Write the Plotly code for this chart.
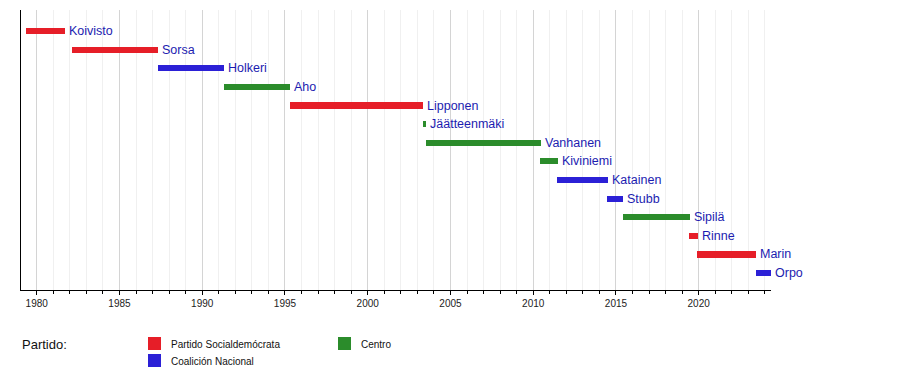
import plotly.graph_objects as go

# ---- data ----
names = ["Koivisto", "Sorsa", "Holkeri", "Aho", "Lipponen", "Jäätteenmäki",
         "Vanhanen", "Kiviniemi", "Katainen", "Stubb", "Sipilä", "Rinne",
         "Marin", "Orpo"]
starts = [1979.35, 1982.12, 1987.32, 1991.32, 1995.30, 2003.33, 2003.51,
          2010.44, 2011.45, 2014.48, 2015.40, 2019.44, 2019.91, 2023.44]
ends = [1981.70, 1987.35, 1991.33, 1995.32, 2003.34, 2003.53, 2010.48,
        2011.50, 2014.50, 2015.43, 2019.48, 2019.98, 2023.48, 2024.37]
parties = ["SDP", "SDP", "KOK", "KESK", "SDP", "KESK", "KESK", "KESK",
           "KOK", "KOK", "KESK", "SDP", "SDP", "KOK"]
party_labels = {"SDP": "Partido Socialdemócrata", "KOK": "Coalición Nacional",
                "KESK": "Centro"}
legend_title = "Partido:"
x_range = [1979.05, 2024.37]

# ---- style ----
colors = {"SDP": "#e61e28", "KOK": "#2b20d6", "KESK": "#2b8c2b"}
text_color = "#1c1cb0"
FONT = "Liberation Sans, Arial, sans-serif"
OFF = 8  # default page body margin
W_FIG, H_FIG = 900 - OFF, 370 - OFF
# plot area in page pixels: x 21..771, y 10..290
L, T = 21 - OFF, 10 - OFF
R = W_FIG - (771 - OFF)
B = H_FIG - (290 - OFF)
PW, PH = W_FIG - L - R, H_FIG - T - B

def px(p):
    return (p - OFF - L) / PW

def py(p):
    return (T + PH - (p - OFF)) / PH

fig = go.Figure()
rows = list(range(len(names)))
for party in ["SDP", "KOK", "KESK"]:
    idx = [i for i in rows if parties[i] == party]
    fig.add_trace(go.Bar(
        orientation="h",
        y=[i for i in idx],
        x=[ends[i] - starts[i] for i in idx],
        base=[starts[i] for i in idx],
        width=0.33,
        marker=dict(color=colors[party], line=dict(width=0)),
        showlegend=False,
        hoverinfo="skip",
    ))

for i in rows:
    fig.add_annotation(x=ends[i], y=i, xref="x", yref="y", text=names[i],
                       showarrow=False, xanchor="left", yanchor="middle",
                       xshift=2, font=dict(family=FONT, size=12.5, color=text_color))

# legend (drawn manually)
fig.add_annotation(x=px(20), y=py(344), xref="paper", yref="paper",
                   text=legend_title, showarrow=False, xanchor="left",
                   yanchor="middle", font=dict(family=FONT, size=13, color="#111"))
legend_pos = {"SDP": (148, 337), "KOK": (148, 354), "KESK": (338, 337)}
for party, (lx, ly) in legend_pos.items():
    fig.add_shape(type="rect", xref="paper", yref="paper",
                  x0=px(lx), x1=px(lx + 13), y0=py(ly), y1=py(ly + 13),
                  fillcolor=colors[party], line=dict(width=0))
    fig.add_annotation(x=px(lx + 21), y=py(ly + 7.5), xref="paper", yref="paper",
                       text=party_labels[party], showarrow=False, xanchor="left",
                       yanchor="middle", font=dict(family=FONT, size=10, color="#111"))

n = len(names)
fig.update_layout(
    width=W_FIG, height=H_FIG,
    margin=dict(l=L, r=R, t=T, b=B, pad=0),
    plot_bgcolor="white", paper_bgcolor="white",
    bargap=0, barmode="overlay",
    xaxis=dict(range=x_range, tick0=1980, dtick=5, showgrid=True,
               gridcolor="#d4d4d4", gridwidth=1, showline=True, linecolor="black",
               linewidth=1, ticks="outside", ticklen=4, tickcolor="black",
               zeroline=False,
               tickfont=dict(family=FONT, size=10, color="#222"),
               minor=dict(dtick=1, tick0=1980, showgrid=True, gridcolor="#f0f0f0",
                          ticks="outside", ticklen=3, tickcolor="black")),
    yaxis=dict(range=[n - 1 + 0.91, -1.13], showgrid=False, zeroline=False,
               showticklabels=False, ticks="", showline=True, linecolor="black",
               linewidth=1),
)

fig.write_html("out.html")
